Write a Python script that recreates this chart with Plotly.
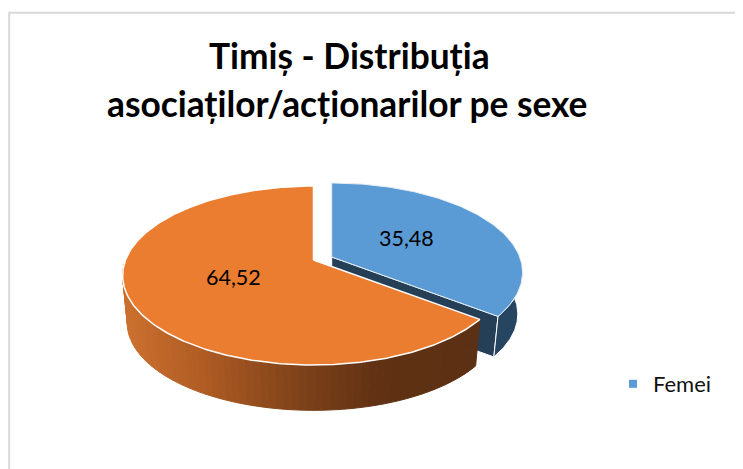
import math
import plotly.graph_objects as go

categories = ["Femei", "Bărbați"]
values = [35.48, 64.52]
labels = ["35,48", "64,52"]
title_lines = ["Timiș - Distribuția", "asociaților/acționarilor pe sexe"]

# The page body adds an 8px offset, so the figure covers window pixels 8..743 / 8..469
W, H = 743, 469
PAD = 8
K, A, B = 0.173, 86.8, 188.0
FONT = "Lato"


def rim(theta, ox, oy, scale=1.0):
    X, Y = math.sin(theta), math.cos(theta)
    d = 1 + K * Y
    return ox + scale * B * X / d, oy - scale * A * Y / d


def poly(xs, ys, color, line="rgba(0,0,0,0)", lw=0):
    return go.Scatter(x=xs, y=ys, mode="lines", fill="toself", fillcolor=color,
                      line=dict(color=line, width=lw), hoverinfo="skip", showlegend=False)


def arc(t0, t1, ox, oy, scale=1.0, n=120):
    pts = [rim(t0 + (t1 - t0) * i / n, ox, oy, scale) for i in range(n + 1)]
    return [p[0] for p in pts], [p[1] for p in pts]


total = sum(values)
split = 2 * math.pi * values[0] / total
OA = (313.5, 260.0)      # Orange apex
BL = (331.7, 257.0)      # exploded blue apex
DROP = 48.0
DROP_BLUE = 42.0
S2 = 0.975

fig = go.Figure()

# Blue walls
bx, by = BL[0], BL[1]
cx, cy = rim(split, bx, by)
c2x, c2y = rim(split, bx, by + DROP_BLUE, S2)
fig.add_trace(poly([bx, cx, c2x, bx, bx], [by, cy, c2y, by + DROP_BLUE, by], "#243F56", "white", 1))
tx, ty = arc(math.radians(70), split, bx, by)
ux, uy = arc(split, math.radians(70), bx, by + DROP_BLUE, S2)
fig.add_trace(poly(tx + ux + [tx[0]], ty + uy + [ty[0]], "#264560", "white", 1))

# Orange wall as gradient bands
stops = [(125, (203, 112, 46)), (200, (176, 92, 36)), (300, (125, 65, 25)),
         (380, (96, 49, 19)), (480, (92, 48, 20))]


def grad(x):
    for (x0, c0), (x1, c1) in zip(stops, stops[1:]):
        if x <= x1:
            f = max(0.0, (x - x0) / (x1 - x0))
            return "rgb(%d,%d,%d)" % tuple(round(a + (b - a) * f) for a, b in zip(c0, c1))
    return "rgb(%d,%d,%d)" % stops[-1][1]


ox, oy = OA
n_bands = 70
t_start, t_end = split, math.radians(268)
for i in range(n_bands):
    a0 = t_start + (t_end - t_start) * i / n_bands
    a1 = t_start + (t_end - t_start) * (i + 1) / n_bands
    tx, ty = arc(a0, a1, ox, oy, n=4)
    ux, uy = arc(a1, a0, ox, oy + DROP, S2, n=4)
    col = grad(sum(tx) / len(tx))
    fig.add_trace(poly(tx + ux + [tx[0]], ty + uy + [ty[0]], col, col, 1))

# Blue top
tx, ty = arc(0, split, bx, by)
fig.add_trace(poly([bx] + tx + [bx], [by] + ty + [by], "#5B9BD5", "#E8EEF4", 1))

# Orange top
tx, ty = arc(split, 2 * math.pi, ox, oy, n=300)
fig.add_trace(poly([ox] + tx + [ox], [oy] + ty + [oy], "#EB7D31", "white", 1.5))

# Legend entry
fig.add_trace(go.Scatter(x=[None], y=[None], mode="markers", name=categories[0],
                         marker=dict(symbol="square", size=8, color="#5B9BD5"), showlegend=True))

ann = [
    dict(x=349, y=55, text=title_lines[0], font=dict(size=35.3, color="black", family=FONT, weight="bold")),
    dict(x=347, y=103, text=title_lines[1], font=dict(size=35.3, color="black", family=FONT, weight="bold")),
    dict(x=406, y=238, text=labels[0], font=dict(size=21.5, color="black", family=FONT)),
    dict(x=233, y=277, text=labels[1], font=dict(size=21.5, color="black", family=FONT)),
]
for a in ann:
    a.update(xref="x", yref="y", showarrow=False, xanchor="center", yanchor="middle")

fig.update_layout(
    width=W - PAD, height=H - PAD, margin=dict(l=0, r=0, t=0, b=0),
    paper_bgcolor="white", plot_bgcolor="white",
    xaxis=dict(range=[PAD, W], visible=False, fixedrange=True),
    yaxis=dict(range=[H, PAD], visible=False, fixedrange=True),
    annotations=ann,
    legend=dict(x=(613 - PAD) / (W - PAD), y=1 - (384 - PAD) / (H - PAD), xanchor="left", yanchor="middle",
                bgcolor="rgba(0,0,0,0)", font=dict(size=22, family=FONT, color="#111111"), itemwidth=30),
    shapes=[dict(type="rect", xref="x", yref="y", x0=9.2, y0=12.7, x1=760, y1=490,
                 line=dict(color="#D9D9D9", width=2), layer="below")],
)
fig.write_html("out.html")
